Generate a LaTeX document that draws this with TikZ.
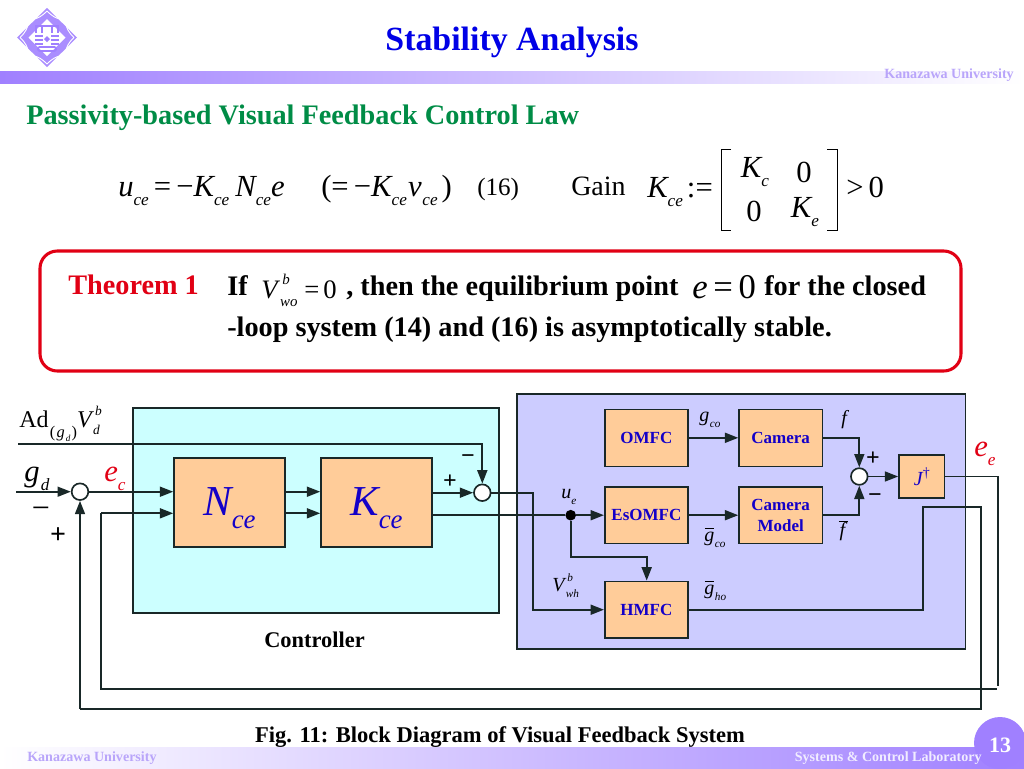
\documentclass[tikz,border=0pt]{standalone}
\usepackage{fontspec}
\setmainfont{Liberation Serif}
\usetikzlibrary{arrows.meta,calc}
\definecolor{barpurple}{RGB}{160,128,255}
\definecolor{barlight}{RGB}{185,165,250}
\definecolor{boxorange}{RGB}{255,204,153}
\definecolor{ctrlcyan}{RGB}{204,255,255}
\definecolor{plantblue}{RGB}{204,204,255}
\definecolor{titleblue}{RGB}{0,0,230}
\definecolor{blockblue}{RGB}{20,0,200}
\definecolor{headgreen}{RGB}{0,140,70}
\definecolor{errred}{RGB}{225,0,20}
\definecolor{inkline}{RGB}{25,40,40}
\newcommand{\Fs}[1]{\fontsize{#1}{#1}\selectfont}
\newcommand{\Sb}[1]{\raisebox{-.3em}{\scalebox{.56}{\itshape #1}}}
\newcommand{\Sbb}[1]{\raisebox{-.32em}{\scalebox{.63}{\itshape #1}}}
\newcommand{\Sp}[1]{\raisebox{.5em}{\scalebox{.56}{\itshape #1}}}
\newcommand{\SpSb}[2]{\makebox[0pt][l]{\kern.08em\Sp{#1}}\Sb{#2}}
\newcommand{\Ob}[2][.62em]{\makebox[0pt][l]{\kern.03em\raisebox{#1}{\rule{.46em}{.05em}}}#2}
\newcommand{\Zb}[2]{\raisebox{#1}[0pt][0pt]{#2}}
\tikzset{
  sized/.style 2 args={minimum width=#1*0.75pt,minimum height=#2*0.75pt,inner sep=0pt},
  frame/.style={draw=inkline,line width=1.2pt},
  block/.style={frame,fill=boxorange,align=center,font=\bfseries\Fs{12.75},text=blockblue},
  line/.style={draw=inkline,line width=1.25pt},
  arr/.style={line,-{Triangle[length=10pt,width=7.5pt]}},
  summer/.style={circle,draw=inkline,fill=white,line width=1.25pt,minimum size=12.5pt,inner sep=0pt},
  txt/.style={inner sep=0pt,text=black},
  lab/.style={inner sep=0pt,text=black,font=\itshape\Fs{15}},
  sgn/.style={inner sep=0pt,text=black,font=\bfseries\Fs{18}},
  eq/.style={inner sep=0pt,text=black,font=\Fs{23}},
  thm/.style={inner sep=0pt,anchor=base west,text=black,font=\bfseries\Fs{21.2}},
  foot/.style={inner sep=0pt,text=barlight,font=\bfseries\Fs{10.55}},
}
\begin{document}
\begin{tikzpicture}[x=0.75pt,y=-0.75pt]
\useasboundingbox (0,0) rectangle (1024,768);
% bars
\fill[left color=barpurple,right color=white] (0,71) rectangle (1024,83);
\fill[left color=white,right color=barpurple] (0,747) rectangle (1024,768);
\fill[barpurple] (1000,743) circle (26);
% logo
\fill[barpurple!90!white] (47,8) -- (77,37.5) -- (47,67) -- (17,37.5) -- cycle;
\fill[white] (47,19) -- (65.5,37.5) -- (47,56) -- (28.5,37.5) -- cycle;
\draw[white,line width=.7pt] (47,11) .. controls (41,17) and (38,18) .. (34,19) (47,11) .. controls (53,17) and (56,18) .. (60,19)
  (20,37.5) .. controls (26,43) and (27,47) .. (28,50) (20,37.5) .. controls (26,32) and (27,28) .. (28,25)
  (74,37.5) .. controls (68,43) and (67,47) .. (66,50) (74,37.5) .. controls (68,32) and (67,28) .. (66,25)
  (47,64) .. controls (41,58) and (38,57) .. (34,56) (47,64) .. controls (53,58) and (56,57) .. (60,56);
\draw[barpurple,line width=.9pt] (36,33) -- (36,26) -- (58,26) -- (58,33) (42,26) -- (42,33) (52,26) -- (52,33)
  (35,36) -- (43,36) (51,36) -- (59,36) (35,40) -- (43,40) (51,40) -- (59,40) (35,44) -- (43,44) (51,44) -- (59,44);
\fill[barpurple] (47,36) -- (50,39) -- (47,42) -- (44,39) -- cycle;
\draw[barpurple,line width=1.2pt,rounded corners=1pt] (38,47) rectangle (56,51);
% header
\node[txt,font=\bfseries\Fs{25.4}] (title) at (512,42) {\textcolor{titleblue}{Stability Analysis}};
\node[foot,anchor=east] (kutop) at (1014,75) {Kanazawa University};
\node[txt,anchor=west,font=\bfseries\Fs{21.2}] (head) at (26,118) {\textcolor{headgreen}{Passivity-based Visual Feedback Control Law}};
% equation
\node[eq,anchor=base west] (eqa) at (118,196) {\itshape u\Sb{ce}\,\upshape =\,−\itshape K\Sb{ce}\kern 4.5pt N\Sb{ce}e};
\node[eq,anchor=base west] (eqb) at (321,196) {\upshape (=\,−\itshape K\Sb{ce}\kern 1pt ν\kern .5pt\Sb{ce}\upshape\kern 3pt)};
\node[txt,anchor=base west,font=\Fs{18.8}] (eqn) at (477,195) {(16)};
\node[txt,anchor=base west,font=\Fs{21}] (gain) at (571,195) {Gain};
\node[eq,anchor=base west] (gk) at (647,197) {\itshape K\Sb{ce}\kern 3pt\upshape :=};
\node[eq] (m11) at (755,172) {\itshape K\Sb{c}};
\node[eq] (m12) at (804,172) {0};
\node[eq] (m21) at (754,211) {0};
\node[eq] (m22) at (805,212) {\itshape K\Sb{e}};
\node[eq,anchor=base west] (gt) at (846,197) {>\,0};
\coordinate (bl1) at (731,149); \coordinate (bl2) at (721,149); \coordinate (bl3) at (721,230); \coordinate (bl4) at (731,230);
\coordinate (br1) at (827,149); \coordinate (br2) at (837,149); \coordinate (br3) at (837,230); \coordinate (br4) at (827,230);
\draw[black,line width=.75pt] (bl1) -- (bl2) -- (bl3) -- (bl4);
\draw[black,line width=.75pt] (br1) -- (br2) -- (br3) -- (br4);
% theorem
\node[draw=errred,line width=2.3pt,rounded corners=13pt,minimum width=921*0.75pt,minimum height=120*0.75pt,inner sep=0pt] (thbox) at (500.5,311) {};
\node[thm] (thl) at (68,294) {\textcolor{errred}{Theorem 1}};
\node[thm] (t1) at (227,295) {If};
\node[txt,anchor=base west,font=\Fs{20}] (t2) at (261,298) {\itshape V\kern 2pt\SpSb{b}{wo}\kern 5pt\upshape =\kern 3pt0};
\node[thm] (t3) at (346,295) {, then the equilibrium point};
\node[txt,anchor=base west,font=\Fs{26}] (t4) at (692,298) {\itshape e\,\upshape =\,0};
\node[thm] (t5) at (764,295) {for the closed};
\node[thm] (t6) at (227,336) {-loop system (14) and (16) is asymptotically stable.};
% panels
\node[frame,fill=ctrlcyan,sized={366}{205.5}] (ctrl) at (316,510.5) {};
\node[frame,fill=plantblue,sized={448.7}{255}] (plant) at (741.3,521.5) {};
\node[txt,font=\bfseries\Fs{16.8}] (ctrltxt) at (314.5,640) {Controller};
% blocks
\node[block,sized={111}{89}] (nce) at (229.5,502.5) {\Zb{-9.4pt}{\Fs{32}\mdseries\itshape N\Sbb{ce}}};
\node[block,sized={111}{89}] (kce) at (376.5,502.5) {\Zb{-9.4pt}{\Fs{32}\mdseries\itshape K\Sbb{ce}}};
\node[block,sized={83.3}{57}] (omfc) at (646.4,437.8) {OMFC};
\node[block,sized={83.3}{57}] (cam) at (780.7,437.8) {Camera};
\node[block,sized={83.3}{56.5}] (esomfc) at (646.4,515.2) {EsOMFC};
\node[block,sized={83.3}{56.5}] (cammod) at (780.7,515.2) {Camera\\[3pt]Model};
\node[block,sized={83.3}{56.7}] (hmfc) at (646.4,609.7) {HMFC};
\node[block,sized={45.7}{43}] (jb) at (921.8,476.5) {\Fs{15}\mdseries\itshape J\raisebox{.42em}{\scalebox{.7}{\upshape †}}};
% summers
\node[summer] (s1) at (80,491.7) {};
\node[summer] (s2) at (482.3,492.7) {};
\node[summer] (s3) at (859.3,476.5) {};
\node[circle,fill=black,minimum size=8pt,inner sep=0pt] (dot) at (570.7,515.2) {};
% free ends and bends
\coordinate (adin) at (18,444);
\coordinate (gin) at (16,491.7);
\coordinate (lowin) at (101,513.3);
\coordinate (vwh) at (533.3,609.7);
\coordinate (branch) at (646.7,556.7);
\coordinate (eeA) at (997.7,476.5);
\coordinate (eeB) at (997.7,686);
\coordinate (fb1r) at (997,688.7);
\coordinate (fb1l) at (101,688.7);
\coordinate (hA) at (923.3,609.7);
\coordinate (hB) at (923.3,507.3);
\coordinate (hC) at (980.7,507.3);
\coordinate (hD) at (980.7,708.7);
\coordinate (hE) at (80,708.7);
% connectors
\draw[arr] (adin) -| (s2.north);
\draw[arr] (gin) -- (s1.west);
\draw[arr] (s1.east) -- (nce.west|-s1.east);
\draw[arr] (lowin) -- (nce.west|-lowin);
\draw[arr] (nce.east|-s1.east) -- (kce.west|-s1.east);
\draw[arr] (nce.east|-lowin) -- (kce.west|-lowin);
\draw[arr] (kce.east|-s2.west) -- (s2.west);
\draw[line] (kce.east|-dot) -- (dot);
\draw[arr] (dot) -- (esomfc.west);
\draw[arr] (dot) |- (branch) -- (hmfc.north-|branch);
\draw[arr] (s2.east) -| (vwh) -- (hmfc.west);
\draw[arr] (omfc.east) -- (cam.west);
\draw[arr] (esomfc.east) -- (cammod.west);
\draw[arr] (cam.east) -| (s3.north);
\draw[arr] (cammod.east) -| (s3.south);
\draw[arr] (s3.east) -- (jb.west);
\draw[line] (jb.east) -- (eeA) -- (eeB);
\draw[line] (fb1r) -- (fb1l) -- (lowin);
\draw[line] (hmfc.east) -- (hA) -- (hB) -- (hC) -- (hD) -- (hE);
\draw[arr] (hE) -- (s1.south);
% signal labels
\node[txt,anchor=base west,font=\Fs{18}] (ad) at (19,427) {Ad\kern 1pt\raisebox{-.42em}{\scalebox{.68}{(\kern 1.5pt\itshape g\kern 1pt\Sb{d}\upshape\kern 1.5pt)}}\itshape V\kern 1pt\SpSb{b}{d}};
\node[txt,anchor=base west,font=\itshape\Fs{23}] (gd) at (24,481) {g\kern 1pt\Sb{d}};
\node[txt,anchor=base west,font=\itshape\Fs{23}] (ec) at (104,481) {\textcolor{errred}{e\Sb{c}}};
\node[txt,anchor=base west,font=\itshape\Fs{23}] (ee) at (974,456) {\textcolor{errred}{e\Sb{e}}};
\node[lab,anchor=base west] (gco) at (699,421) {g\kern .5pt\Sb{co}};
\node[lab,anchor=base west] (fl) at (841,424) {f};
\node[lab,anchor=base west] (ue) at (561,498) {u\Sb{e}};
\node[lab,anchor=base west] (gcob) at (704,541) {\Ob{g}\kern .5pt\Sb{co}};
\node[lab,anchor=base west] (fb) at (838,536) {\Ob[.7em]{\kern 1pt f}};
\node[lab,anchor=base west] (vw) at (552,591) {V\kern 1pt\SpSb{b}{wh}};
\node[lab,anchor=base west] (gho) at (704,594) {\Ob{g}\kern .5pt\Sb{ho}};
% signs
\node[txt,font=\Fs{24}] (m1) at (41,510) {\Zb{-6pt}{−}};
\node[sgn,font=\bfseries\Fs{21}] (p1) at (58,536) {+};
\node[sgn] (m2) at (468,457) {\Zb{-4.5pt}{−}};
\node[sgn] (p2) at (450,482) {+};
\node[sgn] (p3) at (873,459) {+};
\node[sgn] (m3) at (875,496) {\Zb{-4.5pt}{−}};
% footer
\node[txt,font=\bfseries\Fs{16.9}] (cap) at (500,737) {Fig. 11: Block Diagram of Visual Feedback System};
\node[foot,anchor=west] (kubot) at (27,758) {Kanazawa University};
\node[foot,anchor=east,text=white!85!barpurple] (scl) at (982,758) {Systems \& Control Laboratory};
\node[txt,font=\bfseries\Fs{16.5},text=white] (pg) at (1000,745) {13};
\end{tikzpicture}
\end{document}
